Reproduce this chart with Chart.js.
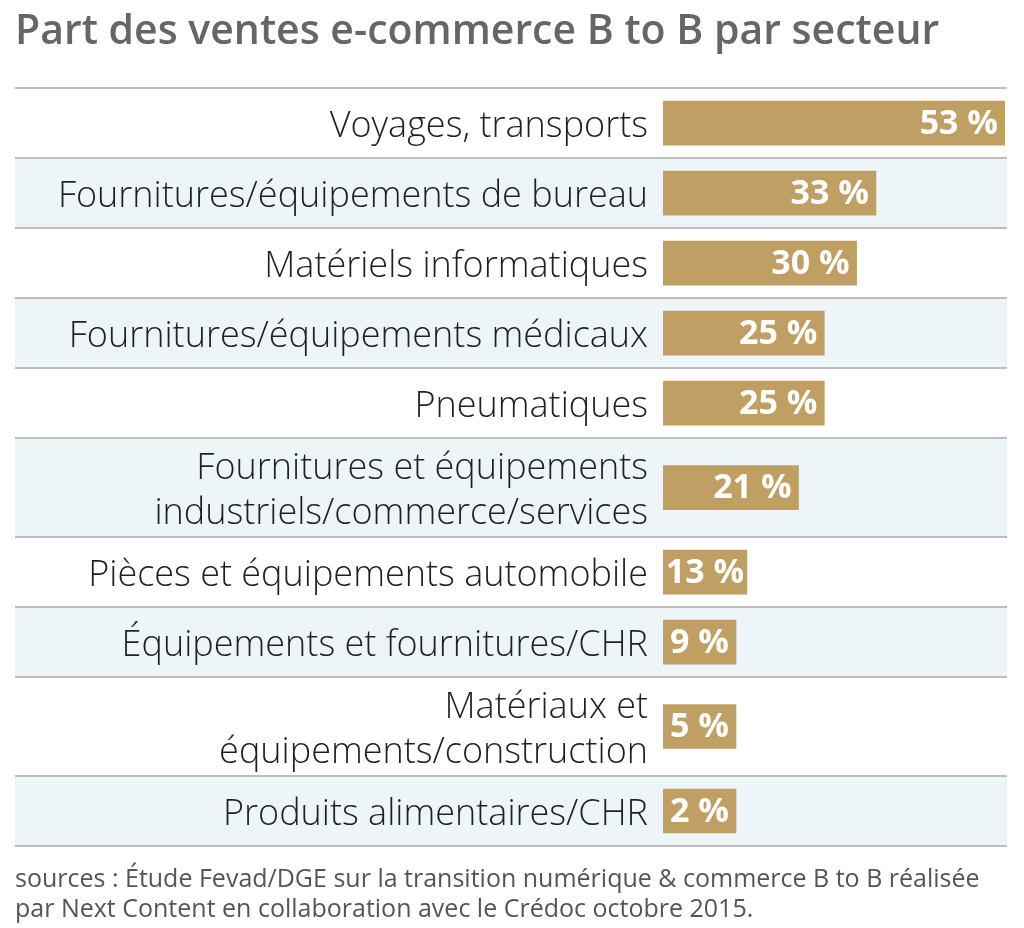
<!DOCTYPE html>
<html lang="fr">
<head>
<meta charset="utf-8">
<script src="https://cdn.jsdelivr.net/npm/chart.js@4"></script>
<style>
    html, body { margin: 0; background: #fff; }
</style>
</head>
<body>
<canvas id="chart" width="1024" height="928"></canvas>
<script>
const FONT = "'Open Sans', sans-serif";

const sectors = [
    ["Voyages, transports"],
    ["Fournitures/équipements de bureau"],
    ["Matériels informatiques"],
    ["Fournitures/équipements médicaux"],
    ["Pneumatiques"],
    ["Fournitures et équipements", "industriels/commerce/services"],
    ["Pièces et équipements automobile"],
    ["Équipements et fournitures/CHR"],
    ["Matériaux et", "équipements/construction"],
    ["Produits alimentaires/CHR"],
];
const shares = [53, 33, 30, 25, 25, 21, 13, 9, 5, 2];
const title = "Part des ventes e-commerce B to B par secteur";
const sources = [
    "sources : Étude Fevad/DGE sur la transition numérique & commerce B to B réalisée",
    "par Next Content en collaboration avec le Crédoc octobre 2015.",
];

const colors = {
    bar: "#bf9f63",
    band: "#edf5f9",
    rule: "#bdbdbd",
    label: "#231f20",
    title: "#666666",
    note: "#555555",
};

// two-line labels get a taller row
function rowSize(label) {
    return label.length > 1 ? 99 / 70 : 1;
}

const edges = [0];
sectors.forEach(s => edges.push(edges[edges.length - 1] + rowSize(s)));
const centers = sectors.map((s, i) => (edges[i] + edges[i + 1]) / 2);

const rowBands = {
    id: "rowBands",
    beforeDraw(chart) {
        const {ctx, chartArea, scales: {y}} = chart;
        const left = y.left;
        const right = chartArea.right + 2;
        ctx.save();
        ctx.fillStyle = "#fff";
        ctx.fillRect(0, 0, chart.width, chart.height);
        for (let i = 0; i < sectors.length; i++) {
            if (i % 2 === 1) {
                const top = y.getPixelForValue(edges[i]);
                const bottom = y.getPixelForValue(edges[i + 1]);
                ctx.fillStyle = colors.band;
                ctx.fillRect(left, top, right - left, bottom - top);
            }
        }
        ctx.strokeStyle = colors.rule;
        ctx.lineWidth = 2;
        edges.forEach(e => {
            const py = Math.round(y.getPixelForValue(e));
            ctx.beginPath();
            ctx.moveTo(left, py);
            ctx.lineTo(right, py);
            ctx.stroke();
        });
        ctx.restore();
    },
};

const valueLabels = {
    id: "valueLabels",
    afterDatasetsDraw(chart) {
        const {ctx} = chart;
        ctx.save();
        ctx.font = "bold 34px " + FONT;
        ctx.fillStyle = "#fff";
        ctx.textAlign = "right";
        ctx.textBaseline = "middle";
        chart.getDatasetMeta(0).data.forEach((bar, i) => {
            const text = shares[i] + " %";
            const room = bar.x - bar.base - ctx.measureText(text).width;
            const pad = Math.min(7, room / 2);
            ctx.fillText(text, bar.x - pad, bar.y + 1);
        });
        ctx.restore();
    },
};

new Chart(document.getElementById("chart"), {
    type: "bar",
    data: {
        datasets: [{
            data: shares.map((v, i) => ({x: v, y: centers[i]})),
            backgroundColor: colors.bar,
            barThickness: 44,
            minBarLength: 73,
        }],
    },
    options: {
        indexAxis: "y",
        responsive: false,
        animation: false,
        layout: {padding: {left: 15, right: 19, top: 0, bottom: 0}},
        scales: {
            x: {
                type: "linear",
                display: false,
                min: 0,
                max: Math.max(...shares),
            },
            y: {
                type: "linear",
                reverse: true,
                offset: false,
                min: 0,
                max: edges[edges.length - 1],
                afterBuildTicks: scale => {
                    scale.ticks = centers.map(v => ({value: v}));
                },
                afterFit: scale => {
                    scale.width = 648;
                    scale.paddingTop = 0;
                    scale.paddingBottom = 0;
                },
                grid: {display: false, drawTicks: false},
                border: {display: false},
                ticks: {
                    autoSkip: false,
                    padding: 15,
                    labelOffset: 4,
                    color: colors.label,
                    font: {family: FONT, size: 36, weight: 300, lineHeight: 1.25},
                    callback: (value, index) => sectors[index],
                },
            },
        },
        plugins: {
            legend: {display: false},
            tooltip: {enabled: false},
            title: {
                display: true,
                text: title,
                align: "start",
                color: colors.title,
                font: {family: FONT, size: 41, weight: 600, lineHeight: 1.2},
                padding: {top: 8, bottom: 31},
            },
            subtitle: {
                display: true,
                text: sources,
                position: "bottom",
                align: "start",
                color: colors.note,
                font: {family: FONT, size: 25, lineHeight: 1.2},
                padding: {top: 19, bottom: 3},
            },
        },
    },
    plugins: [rowBands, valueLabels],
});
</script>
</body>
</html>
